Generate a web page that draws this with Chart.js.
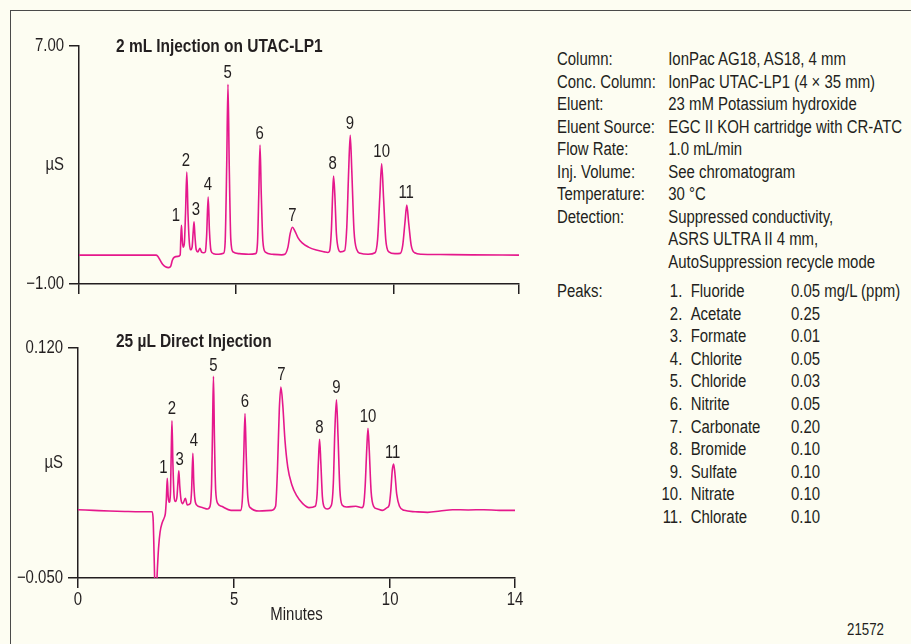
<!DOCTYPE html>
<html>
<head>
<meta charset="utf-8">
<title>UTAC-LP1 chromatograms</title>
<script src="https://cdn.jsdelivr.net/npm/chart.js@4.4.1/dist/chart.umd.min.js"></script>
<style>
  body { margin: 0; background: #fdfdf2; }
  #page {
    position: relative; width: 911px; height: 644px; overflow: hidden;
    background: #fdfdf2; color: #231f20;
    font-family: "Liberation Sans", Arial, sans-serif;
    font-size: 18px;
  }
  #frame {
    position: absolute; left: 10px; top: 10px; right: -10px; bottom: -10px;
    border-left: 1.5px solid #4a4a4a; border-top: 1.5px solid #4a4a4a;
  }
  canvas { position: absolute; left: 0; }
  #topChart { top: 0; }
  #botChart { top: 300px; }
  /* no condensed face installed, so squeeze Liberation Sans like Arial Narrow */
  .narrow { transform: scaleX(0.83); transform-origin: left top; }
  .title { position: absolute; left: 116px; font-weight: bold; line-height: 20px; white-space: nowrap; transform: scaleX(0.86); transform-origin: left top; }
  .grid { position: absolute; left: 557px; display: grid; white-space: nowrap; }
  #params { top: 48px; grid-template-columns: 134px auto; line-height: 22.5px; }
  #peaks { top: 280px; grid-template-columns: 120px 31px 131px auto; line-height: 22.6px; }
  #peaks .n { text-align: right; }
  #peaks .nm { padding-left: 10px; }
  #fig { position: absolute; left: 847px; top: 620px; font-size: 16px; line-height: 20px; }
</style>
</head>
<body>
<div id="page">
  <div id="frame"></div>
  <canvas id="topChart" width="540" height="300"></canvas>
  <canvas id="botChart" width="540" height="344"></canvas>
  <div class="title" style="top:36px">2 mL Injection on UTAC-LP1</div>
  <div class="title" style="top:331px">25 µL Direct Injection</div>
  <div id="params" class="grid narrow"></div>
  <div id="peaks" class="grid narrow"></div>
  <div id="fig" class="narrow">21572</div>
</div>
<script>
// top trace: 2 mL injection on UTAC-LP1 (µS vs minutes)
const topTime = [0, 1.0, 2.0, 2.45, 2.5, 2.58, 2.66, 2.75, 2.85, 2.92, 2.97, 3.03, 3.15,
  3.22, 3.24, 3.26, 3.285, 3.31, 3.35, 3.39, 3.43, 3.47, 3.51, 3.55,
  3.6, 3.63, 3.66, 3.69, 3.73, 3.78, 3.85, 3.9, 3.96,
  4.02, 4.06, 4.11, 4.15, 4.2, 4.28, 4.45,
  4.6, 4.65, 4.7, 4.74, 4.78, 4.83, 4.9, 5.1, 5.4,
  5.62, 5.68, 5.72, 5.76, 5.8, 5.85, 5.93, 6.15, 6.45,
  6.55, 6.65, 6.72, 6.79, 6.87, 6.97, 7.1, 7.3, 7.55, 7.8, 7.92,
  7.97, 8.03, 8.07, 8.1, 8.14, 8.19, 8.26, 8.32,
  8.45, 8.52, 8.58, 8.63, 8.68, 8.75, 8.84, 8.95, 9.2,
  9.42, 9.5, 9.57, 9.63, 9.69, 9.76, 9.86, 10.05,
  10.22, 10.3, 10.37, 10.43, 10.49, 10.57, 10.68, 10.9, 11.5, 12.5, 14];
const topSignal = [-0.03, -0.03, -0.03, -0.03, -0.06, -0.2, -0.34, -0.42, -0.45, -0.4, -0.2, -0.1, -0.07,
  -0.02, 0.55, 0.97, 0.5, 0.24, 0.35, 1.4, 2.76, 1.3, 0.4, 0.15,
  0.25, 0.7, 1.09, 0.6, 0.15, 0.08, 0.2, 0.07, 0.05,
  0.08, 0.6, 1.92, 0.8, 0.12, 0.02, 0.0,
  0.03, 0.4, 3.0, 5.71, 3.0, 0.5, 0.08, 0.02, 0.0,
  0.02, 0.4, 2.0, 3.67, 2.0, 0.45, 0.07, 0.0, -0.02,
  0.0, 0.25, 0.7, 0.91, 0.78, 0.55, 0.38, 0.24, 0.14, 0.08, 0.06,
  0.1, 0.8, 2.0, 2.63, 2.0, 0.7, 0.15, 0.08,
  0.12, 0.9, 2.8, 4.0, 2.8, 0.8, 0.15, 0.03, 0.0,
  0.05, 0.5, 1.9, 3.04, 1.9, 0.5, 0.08, 0.02,
  0.03, 0.3, 1.05, 1.65, 1.05, 0.3, 0.05, 0.0, -0.01, -0.02, -0.03];

// bottom trace: 25 µL direct injection
const botTime = [0, 0.5, 1.0, 1.5, 2.0, 2.38, 2.41, 2.44, 2.47, 2.51, 2.54, 2.58, 2.63, 2.7, 2.77,
  2.8, 2.83, 2.86, 2.89, 2.92, 2.96, 2.985, 3.01, 3.04, 3.08, 3.12,
  3.17, 3.2, 3.23, 3.26, 3.3, 3.36, 3.44, 3.5,
  3.6, 3.64, 3.68, 3.71, 3.76, 3.85, 4.0, 4.15,
  4.23, 4.28, 4.31, 4.34, 4.37, 4.41, 4.48, 4.6, 4.9,
  5.22, 5.27, 5.31, 5.35, 5.39, 5.44, 5.52, 5.8, 6.2,
  6.33, 6.39, 6.45, 6.5, 6.56, 6.63, 6.72, 6.85, 7.0, 7.2, 7.4,
  7.6, 7.66, 7.7, 7.74, 7.78, 7.83, 7.9, 7.98,
  8.12, 8.18, 8.23, 8.28, 8.33, 8.39, 8.46, 8.6, 8.9, 9.1,
  9.15, 9.2, 9.25, 9.29, 9.33, 9.39, 9.47, 9.6, 9.75, 9.9,
  9.97, 10.02, 10.07, 10.11, 10.15, 10.21, 10.3, 10.45,
  10.8, 11.2, 11.6, 12.0, 12.5, 13.0, 13.5, 14];
const botSignal = [0.0005, 0.0, -0.0005, -0.0008, -0.001, -0.001, -0.008, -0.035, -0.06, -0.06, -0.045, -0.028, -0.016, -0.009, -0.005,
  -0.002, 0.008, 0.0237, 0.01, 0.006, 0.012, 0.04, 0.0662, 0.035, 0.01, 0.0065,
  0.01, 0.02, 0.0293, 0.018, 0.008, 0.005, 0.009, 0.004,
  0.005, 0.015, 0.0422, 0.02, 0.006, 0.003, 0.002, 0.001,
  0.003, 0.02, 0.06, 0.099, 0.055, 0.015, 0.005, 0.003, 0.0,
  0.0, 0.01, 0.04, 0.0716, 0.04, 0.01, 0.002, -0.0005, 0.0,
  0.003, 0.03, 0.075, 0.0911, 0.078, 0.052, 0.032, 0.019, 0.011, 0.005, 0.002,
  0.003, 0.012, 0.035, 0.0526, 0.035, 0.01, 0.002, 0.001,
  0.004, 0.02, 0.06, 0.0818, 0.055, 0.015, 0.004, 0.0025, 0.003, 0.002,
  0.004, 0.018, 0.045, 0.0607, 0.045, 0.014, 0.003, 0.001, 0.0, 0.002,
  0.004, 0.014, 0.03, 0.0343, 0.028, 0.012, 0.003, 0.0,
  -0.001, -0.0015, -0.0005, 0.0005, 0.0003, 0.0005, 0.0, 0.0];

// peak number labels, anchored (minutes, µS) at the bottom of each number
const topLabelTime = [3.08, 3.40, 3.72, 4.10, 4.73, 5.75, 6.79, 8.07, 8.62, 9.63, 10.41];
const topLabelValue = [1.12, 2.98, 1.31, 2.15, 5.91, 3.87, 1.12, 2.85, 4.21, 3.27, 1.88];
const botLabelTime = [2.74, 3.01, 3.26, 3.71, 4.34, 5.35, 6.52, 7.73, 8.28, 9.29, 10.08];
const botLabelValue = [0.0274, 0.0712, 0.0335, 0.0478, 0.103, 0.0766, 0.0963, 0.057, 0.0865, 0.0655, 0.0389];

const xTicks = [0, 5, 10, 14];
const topRange = [-1.0, 7.0];
const botRange = [-0.05, 0.12];

const paramLabels = ['Column:', 'Conc. Column:', 'Eluent:', 'Eluent Source:', 'Flow Rate:',
  'Inj. Volume:', 'Temperature:', 'Detection:', '', ''];
const paramValues = ['IonPac AG18, AS18, 4 mm', 'IonPac UTAC-LP1 (4 × 35 mm)', '23 mM Potassium hydroxide',
  'EGC II KOH cartridge with CR-ATC', '1.0 mL/min', 'See chromatogram', '30 °C',
  'Suppressed conductivity,', 'ASRS ULTRA II 4 mm,', 'AutoSuppression recycle mode'];
const peakNames = ['Fluoride', 'Acetate', 'Formate', 'Chlorite', 'Chloride', 'Nitrite',
  'Carbonate', 'Bromide', 'Sulfate', 'Nitrate', 'Chlorate'];
const peakConc = ['0.05', '0.25', '0.01', '0.05', '0.03', '0.05', '0.20', '0.10', '0.10', '0.10', '0.10'];

const FONT = '"Liberation Sans", Arial, sans-serif';
const INK = '#231f20';
const TRACE = '#e5188c';
const SQUEEZE = 0.83;

Chart.defaults.font.family = FONT;
Chart.defaults.font.size = 18;
Chart.defaults.color = INK;

// fill the text blocks on the right
const params = document.getElementById('params');
paramLabels.forEach((l, i) => {
  params.insertAdjacentHTML('beforeend', `<div>${l}</div><div>${paramValues[i]}</div>`);
});
const peaks = document.getElementById('peaks');
peakNames.forEach((n, i) => {
  peaks.insertAdjacentHTML('beforeend',
    `<div>${i === 0 ? 'Peaks:' : ''}</div><div class="n">${i + 1}.</div><div class="nm">${n}</div>` +
    `<div>${peakConc[i]}${i === 0 ? ' mg/L (ppm)' : ''}</div>`);
});

// condensed-looking text on the canvas
function narrowText(ctx, text, x, y, align, baseline) {
  ctx.save();
  ctx.translate(x, y);
  ctx.scale(SQUEEZE, 1);
  ctx.textAlign = align;
  ctx.textBaseline = baseline;
  ctx.fillText(text, 0, 0);
  ctx.restore();
}

function fmtMinus(v, digits) {
  const s = Math.abs(v).toFixed(digits);
  return v < 0 ? '\u2212' + s : s;
}

const chromLabels = {
  id: 'chromLabels',
  afterDatasetsDraw(chart, args, opts) {
    const { ctx, chartArea } = chart;
    const x = chart.scales.x, y = chart.scales.y;
    ctx.save();
    ctx.fillStyle = INK;
    ctx.font = '18px ' + FONT;
    // peak numbers
    opts.times.forEach((t, i) => {
      narrowText(ctx, String(i + 1), x.getPixelForValue(t), y.getPixelForValue(opts.values[i]), 'center', 'alphabetic');
    });
    // y tick labels at the two ends and the unit between them
    const lx = chartArea.left - 15;
    opts.range.forEach(v => narrowText(ctx, fmtMinus(v, opts.digits), lx, y.getPixelForValue(v), 'right', 'middle'));
    narrowText(ctx, 'µS', lx, (chartArea.top + chartArea.bottom) / 2, 'right', 'middle');
    if (opts.showX) {
      xTicks.forEach(v => narrowText(ctx, String(v), x.getPixelForValue(v), chartArea.bottom + 22, 'center', 'middle'));
      narrowText(ctx, 'Minutes', (chartArea.left + chartArea.right) / 2, chartArea.bottom + 37, 'center', 'middle');
    }
    ctx.restore();
  }
};

function makeChart(id, time, signal, range, digits, labelTimes, labelValues, opt) {
  const points = time.map((t, i) => ({ x: t, y: signal[i] }));
  return new Chart(document.getElementById(id), {
    type: 'line',
    data: {
      datasets: [{
        data: points,
        borderColor: TRACE,
        borderWidth: 1.6,
        pointRadius: 0,
        cubicInterpolationMode: 'monotone'
      }]
    },
    options: {
      responsive: false,
      animation: false,
      layout: { padding: opt.padding },
      plugins: {
        legend: { display: false },
        tooltip: { enabled: false },
        chromLabels: { times: labelTimes, values: labelValues, range: range, digits: digits, showX: opt.showX }
      },
      scales: {
        x: {
          type: 'linear',
          min: 0,
          max: 14,
          afterBuildTicks: s => { s.ticks = xTicks.map(v => ({ value: v })); },
          afterFit: s => { s.height = opt.xHeight; },
          ticks: { display: false },
          grid: { drawOnChartArea: false, tickLength: 10, color: INK, lineWidth: 1.5 },
          border: { color: INK, width: 1.5 }
        },
        y: {
          min: range[0],
          max: range[1],
          afterBuildTicks: s => { s.ticks = range.map(v => ({ value: v })); },
          afterFit: s => { s.width = opt.yWidth; },
          ticks: { display: false },
          grid: { drawOnChartArea: false, tickLength: 10, color: INK, lineWidth: 1.5 },
          border: { color: INK, width: 1.5 }
        }
      }
    },
    plugins: [chromLabels]
  });
}

makeChart('topChart', topTime, topSignal, topRange, 2, topLabelTime, topLabelValue,
  { padding: { top: 46, right: 21, left: 0, bottom: 0 }, xHeight: 16, yWidth: 79, showX: false });
makeChart('botChart', botTime, botSignal, botRange, 3, botLabelTime, botLabelValue,
  { padding: { top: 48, right: 25, left: 0, bottom: 19 }, xHeight: 47, yWidth: 78, showX: true });
</script>
</body>
</html>
